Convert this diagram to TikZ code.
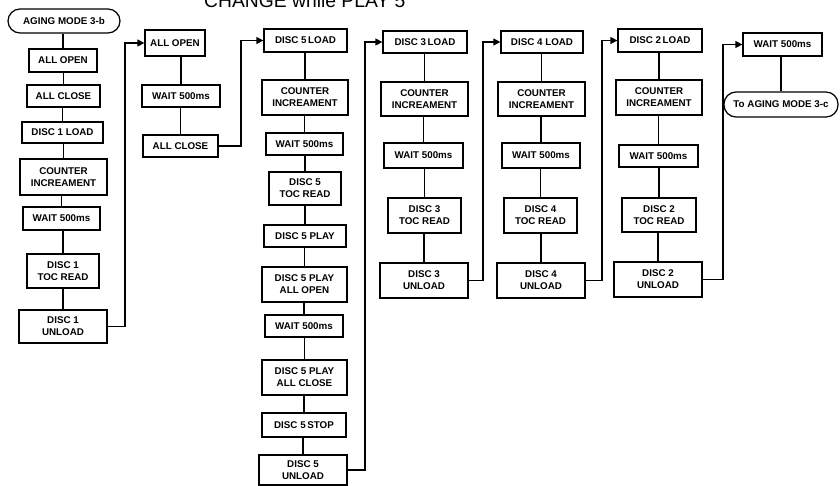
\documentclass[tikz,border=0pt]{standalone}
\usepackage{fontspec}
\setmainfont{Liberation Sans}
\usetikzlibrary{arrows.meta,calc}

\tikzset{
  box/.style={draw, line width=1.25pt, fill=white, inner sep=0pt, align=center,
    font=\fontsize{9.8}{12}\selectfont\bfseries},
  term/.style={box, rounded corners=12pt},
  link/.style={line width=1.3pt},
  flow/.style={line width=1.3pt, -{Triangle[length=7pt,width=7pt]}},
}
% place a box: name, centre x, centre y, width, height, text
\newcommand{\stepnode}[7][box]{%
  \node[#1, minimum width=#5, minimum height=#6] (#2) at (#3,#4) {#7};}

\begin{document}
\begin{tikzpicture}[x=1pt,y=-1pt]
\useasboundingbox (0,0) rectangle (840,486);
\fill[white] (0,0) rectangle (840,486);

\node[anchor=base west, inner sep=0pt, font=\fontsize{19.3}{20}\selectfont] (title) at (204,8) {CHANGE while PLAY 5};

% column 1
\stepnode[term]{s1}{64}{21}{112pt}{24pt}{AGING MODE 3-b}
\stepnode{a1}{63}{60.5}{68pt}{23pt}{ALL OPEN}
\stepnode{a2}{63.5}{96}{73pt}{22pt}{ALL CLOSE}
\stepnode{a3}{62.5}{132.5}{81pt}{21pt}{DISC 1 LOAD}
\stepnode{a4}{63.5}{177}{87pt}{36pt}{COUNTER\\INCREAMENT}
\stepnode{a5}{61.5}{218.5}{77pt}{23pt}{WAIT 500ms}
\stepnode{a6}{63}{271}{72pt}{34pt}{DISC 1\\TOC READ}
\stepnode{a7}{63}{326.5}{88pt}{33pt}{DISC 1\\UNLOAD}

% column 2
\stepnode{b1}{175}{43}{60pt}{26pt}{ALL OPEN}
\stepnode{b2}{181}{96}{78pt}{22pt}{WAIT 500ms}
\stepnode{b3}{180.5}{146}{75pt}{22pt}{ALL CLOSE}

% column 3
\stepnode{c1}{305.5}{40.5}{83pt}{23pt}{DISC 5\,LOAD}
\stepnode{c2}{305}{97.5}{86pt}{35pt}{COUNTER\\INCREAMENT}
\stepnode{c3}{304.5}{144}{77pt}{22pt}{WAIT 500ms}
\stepnode{c4}{305}{188.5}{72pt}{33pt}{DISC 5\\TOC READ}
\stepnode{c5}{305}{236}{82pt}{22pt}{DISC 5 PLAY}
\stepnode{c6}{304.5}{284.5}{85pt}{35pt}{DISC 5 PLAY\\ALL OPEN}
\stepnode{c7}{304}{326}{78pt}{22pt}{WAIT 500ms}
\stepnode{c8}{304.5}{377.5}{85pt}{35pt}{DISC 5 PLAY\\ALL CLOSE}
\stepnode{c9}{304}{425}{84pt}{24pt}{DISC 5\,STOP}
\stepnode{c10}{303}{470}{88pt}{30pt}{DISC 5\\UNLOAD}

% column 4
\stepnode{d1}{425}{42}{84pt}{22pt}{DISC 3\,LOAD}
\stepnode{d2}{424.5}{99}{87pt}{34pt}{COUNTER\\INCREAMENT}
\stepnode{d3}{423.5}{155.5}{79pt}{25pt}{WAIT 500ms}
\stepnode{d4}{424.5}{215.5}{73pt}{35pt}{DISC 3\\TOC READ}
\stepnode{d5}{424}{280.5}{88pt}{35pt}{DISC 3\\UNLOAD}

% column 5
\stepnode{e1}{542}{42}{82pt}{22pt}{DISC 4 LOAD}
\stepnode{e2}{541.5}{99}{87pt}{34pt}{COUNTER\\INCREAMENT}
\stepnode{e3}{541}{155.5}{78pt}{25pt}{WAIT 500ms}
\stepnode{e4}{540.5}{215.5}{73pt}{35pt}{DISC 4\\TOC READ}
\stepnode{e5}{541}{280.5}{88pt}{35pt}{DISC 4\\UNLOAD}

% column 6
\stepnode{f1}{660}{40.5}{84pt}{23pt}{DISC 2\,LOAD}
\stepnode{f2}{659}{97.5}{86pt}{35pt}{COUNTER\\INCREAMENT}
\stepnode{f3}{658.5}{156}{79pt}{22pt}{WAIT 500ms}
\stepnode{f4}{659}{215}{74pt}{34pt}{DISC 2\\TOC READ}
\stepnode{f5}{658}{279.5}{88pt}{35pt}{DISC 2\\UNLOAD}

% column 7
\stepnode{g1}{782.5}{44.5}{79pt}{23pt}{WAIT 500ms}
\stepnode[term]{g2}{781}{104.5}{114pt}{25pt}{To AGING MODE 3-c}

% bend points of the return lines
\coordinate (j1) at (125,0);
\coordinate (j2) at (241,0);
\coordinate (j3) at (365,0);
\coordinate (j4) at (483,0);
\coordinate (j5) at (602,0);
\coordinate (j6) at (723,0);

% vertical links inside each column
\foreach \u/\l in {s1/a1,a1/a2,a2/a3,a3/a4,a4/a5,a5/a6,a6/a7,
                   b1/b2,b2/b3,
                   c1/c2,c2/c3,c3/c4,c4/c5,c5/c6,c6/c7,c7/c8,c8/c9,c9/c10,
                   d1/d2,d2/d3,d3/d4,d4/d5,
                   e1/e2,e2/e3,e3/e4,e4/e5,
                   f1/f2,f2/f3,f3/f4,f4/f5,
                   g1/g2}
  \draw[link] (\l.north) -- (\l.north |- \u.south);

% return lines into the next column
\draw[flow] (a7.east) -- (a7.east -| j1) |- (b1.west);
\draw[flow] (b3.east) -- (b3.east -| j2) |- (c1.west);
\draw[flow] (c10.east) -- (c10.east -| j3) |- (d1.west);
\draw[flow] (d5.east) -- (d5.east -| j4) |- (e1.west);
\draw[flow] (e5.east) -- (e5.east -| j5) |- (f1.west);
\draw[flow] (f5.east) -- (f5.east -| j6) |- (g1.west);
\end{tikzpicture}
\end{document}
